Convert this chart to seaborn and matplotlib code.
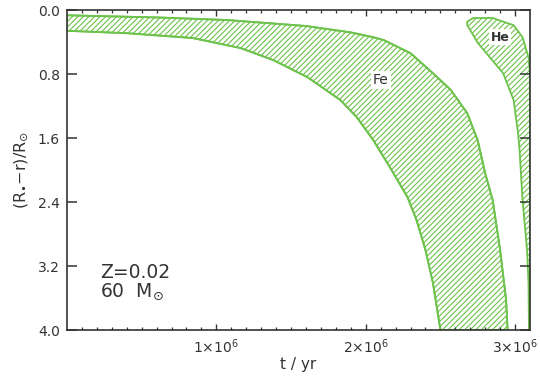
import matplotlib
matplotlib.use("Agg")
import matplotlib.pyplot as plt
import seaborn as sns
import numpy as np

# Fe zone: upper (outer) boundary, t in yr, depth in R_sun
fe_upper_t = [0.0, 0.62e6, 1.07e6, 1.60e6, 1.90e6, 2.05e6, 2.12e6, 2.30e6, 2.45e6, 2.57e6,
              2.68e6, 2.75e6, 2.80e6, 2.85e6, 2.90e6, 2.94e6, 2.95e6]
fe_upper_d = [0.066, 0.094, 0.125, 0.20, 0.28, 0.34, 0.375, 0.54, 0.79, 1.0,
              1.29, 1.63, 2.04, 2.375, 3.0, 3.625, 4.0]
# Fe zone: lower (inner) boundary
fe_lower_t = [0.0, 0.40e6, 0.84e6, 1.16e6, 1.38e6, 1.61e6, 1.83e6, 1.94e6, 2.05e6,
              2.16e6, 2.28e6, 2.34e6, 2.40e6, 2.45e6, 2.50e6]
fe_lower_d = [0.26, 0.29, 0.35, 0.475, 0.625, 0.84, 1.125, 1.34, 1.625,
              1.96, 2.34, 2.625, 3.0, 3.41, 4.0]

# He zone outline (closed polygon)
he_t = [2.68e6, 2.72e6, 2.85e6, 2.99e6, 3.05e6, 3.09e6, 3.10e6, 3.10e6, 3.093e6,
        3.09e6, 3.08e6, 3.05e6, 3.03e6, 3.02e6, 2.99e6, 2.92e6, 2.83e6, 2.75e6, 2.68e6]
he_d = [0.146, 0.10, 0.10, 0.19, 0.34, 0.59, 0.80, 4.0, 4.0,
        3.41, 3.0, 2.375, 1.75, 1.54, 1.125, 0.79, 0.59, 0.41, 0.19]

xticks = [1e6, 2e6, 3e6]
xticklabels = [r"1$\times$10$^6$", r"2$\times$10$^6$", r"3$\times$10$^6$"]
yticks = [0.0, 0.8, 1.6, 2.4, 3.2, 4.0]
yticklabels = ["0.0", "0.8", "1.6", "2.4", "3.2", "4.0"]

plt.rcParams.update({
    "font.family": ["DejaVu Sans"],
    "mathtext.fontset": "dejavusans",
    "hatch.linewidth": 0.8,
    "xtick.direction": "in",
    "ytick.direction": "in",
    "xtick.top": True,
    "ytick.right": True,
    "xtick.color": "#333333",
    "ytick.color": "#333333",
    "xtick.labelcolor": "#333333",
    "ytick.labelcolor": "#333333",
    "axes.edgecolor": "#333333",
    "axes.linewidth": 1.2,
})

green = "#6cc24a"
fig = plt.figure(figsize=(5.4, 3.76), dpi=100)
ax = fig.add_axes([67/540, 1-330/376, (530-67)/540, (330-10)/376])

fe_t = fe_upper_t + fe_lower_t[::-1]
fe_d = fe_upper_d + fe_lower_d[::-1]
ax.fill(fe_t, fe_d, facecolor="none", edgecolor=green, hatch="//////", linewidth=1.3)
ax.fill(he_t, he_d, facecolor="none", edgecolor=green, hatch="//////", linewidth=1.3)

sns.lineplot(x=fe_upper_t, y=fe_upper_d, sort=False, estimator=None, color=green, lw=1.3, ax=ax)
sns.lineplot(x=fe_lower_t, y=fe_lower_d, sort=False, estimator=None, color=green, lw=1.3, ax=ax)

ax.set_xlim(0, 3.1e6)
ax.set_ylim(4.0, 0.0)
ax.set_xticks(xticks)
ax.set_xticklabels(xticklabels, fontsize=10)
ax.set_xticks(np.arange(1e5, 3.1e6, 1e5), minor=True)
ax.set_yticks(yticks)
ax.set_yticklabels(yticklabels, fontsize=10)
ax.yaxis.set_minor_locator(matplotlib.ticker.NullLocator())

ax.tick_params(axis="y", which="major", length=7, width=1.1, pad=5)
ax.tick_params(axis="x", which="major", length=4.5, width=1.0, pad=5)
ax.tick_params(axis="x", which="minor", length=2.5, width=0.9)

ax.set_xlabel("t / yr", fontsize=11, labelpad=1, color="#333333")
ax.set_ylabel(r"(R$_{\bullet}$$-$r)/R$_{\odot}$", fontsize=11.5, labelpad=6, color="#333333")

ax.text(2.10e6, 0.875, "Fe", fontsize=10, ha="center", va="center", color="#333333",
        bbox=dict(facecolor="white", edgecolor="none", pad=1.5))
ax.text(2.90e6, 0.34, "He", fontsize=9, fontweight="bold", ha="center", va="center",
        color="#333333", bbox=dict(facecolor="white", edgecolor="none", pad=1.0))
ax.text(0.22e6, 3.35, "Z=0.02", fontsize=13.5, ha="left", va="baseline", color="#333333")
ax.text(0.22e6, 3.59, r"60  M$_{\odot}$", fontsize=13.5, ha="left", va="baseline", color="#333333")

fig.savefig("out.png", dpi=100)
